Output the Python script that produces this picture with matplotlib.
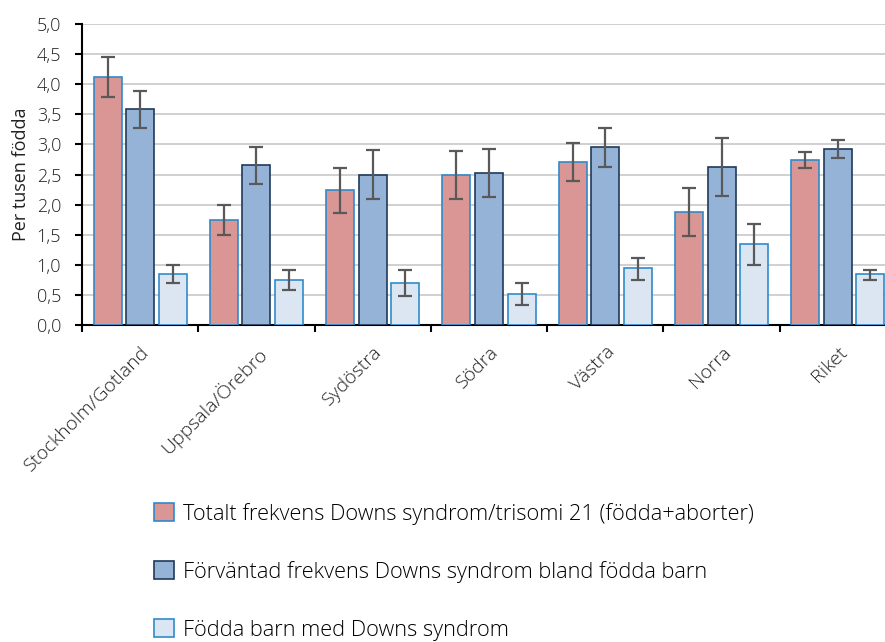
import numpy as np
import matplotlib
matplotlib.use("Agg")
import matplotlib.pyplot as plt
from matplotlib.ticker import FuncFormatter, MultipleLocator
from matplotlib.patches import Patch

plt.rcParams['font.family'] = ['Open Sans', 'DejaVu Sans']
plt.rcParams['font.weight'] = 'light'

regions = ['Stockholm/Gotland', 'Uppsala/Örebro', 'Sydöstra', 'Södra', 'Västra', 'Norra', 'Riket']

series_labels = ['Totalt frekvens Downs syndrom/trisomi 21 (födda+aborter)',
                 'Förväntad frekvens Downs syndrom bland födda barn',
                 'Födda barn med Downs syndrom']

total = [4.12, 1.74, 2.24, 2.49, 2.71, 1.88, 2.74]
total_lo = [3.79, 1.50, 1.86, 2.10, 2.39, 1.48, 2.60]
total_hi = [4.45, 1.99, 2.61, 2.89, 3.02, 2.28, 2.87]

expected = [3.58, 2.65, 2.50, 2.52, 2.95, 2.62, 2.93]
expected_lo = [3.28, 2.35, 2.10, 2.12, 2.62, 2.15, 2.78]
expected_hi = [3.89, 2.96, 2.90, 2.92, 3.28, 3.11, 3.07]

born = [0.85, 0.75, 0.70, 0.51, 0.94, 1.34, 0.84]
born_lo = [0.70, 0.58, 0.48, 0.33, 0.75, 1.00, 0.75]
born_hi = [1.00, 0.91, 0.91, 0.69, 1.12, 1.68, 0.91]

fills = ['#D99694', '#95B3D7', '#DCE6F2']
edges = ['#2E8BCC', '#1F3A5A', '#2E8BCC']

fig = plt.figure(figsize=(8.85, 6.42), dpi=100)
ax = fig.add_axes([82/885, 1-325/642, 814/885, 301/642])

x = np.arange(len(regions))
off = 0.28
w = 0.24
data = [(total, total_lo, total_hi), (expected, expected_lo, expected_hi), (born, born_lo, born_hi)]
for i, (v, lo, hi) in enumerate(data):
    v = np.array(v); lo = np.array(lo); hi = np.array(hi)
    ax.bar(x + (i - 1) * off, v, width=w, color=fills[i], edgecolor=edges[i],
           linewidth=1.2, zorder=3, label=series_labels[i])
    ax.errorbar(x + (i - 1) * off, v, yerr=[v - lo, hi - v], fmt='none',
                ecolor='#595959', elinewidth=1.6, capsize=5, capthick=1.6, zorder=4)

ax.set_ylim(0, 5)
ax.set_xlim(-0.5, len(regions) - 0.5)
ax.yaxis.set_major_locator(MultipleLocator(0.5))
ax.yaxis.set_major_formatter(FuncFormatter(lambda v, p: f'{v:.1f}'.replace('.', ',')))
ax.grid(axis='y', color='#C8C8C8', linewidth=1.2, zorder=0)
ax.set_axisbelow(True)

ax.set_xticks(x)
ax.set_xticklabels(regions, rotation=45, ha='right', rotation_mode='anchor', fontsize=14, color='#222222')
ax.set_xticks(np.arange(-0.5, len(regions)), minor=True)
ax.tick_params(axis='x', which='major', length=0, pad=13)
ax.tick_params(axis='x', which='minor', length=5, width=1.5, direction='out')
ax.tick_params(axis='y', length=5, width=1.5, pad=10, labelsize=13, labelcolor='#222222')

ax.set_ylabel('Per tusen födda', fontsize=13, color='#222222', labelpad=5)

for s in ['top', 'right']:
    ax.spines[s].set_visible(False)
ax.spines['left'].set_linewidth(1.5)
ax.spines['bottom'].set_linewidth(1.5)

handles = [Patch(facecolor=fills[i], edgecolor=edges[i], linewidth=1.2) for i in range(3)]
fig.legend(handles, series_labels, loc='upper left', bbox_to_anchor=(134/885, 1-483/642),
           frameon=False, fontsize=15.7, handlelength=0.92, handleheight=0.92,
           handletextpad=0.45, labelspacing=1.66)

fig.savefig('out.png', dpi=100)
